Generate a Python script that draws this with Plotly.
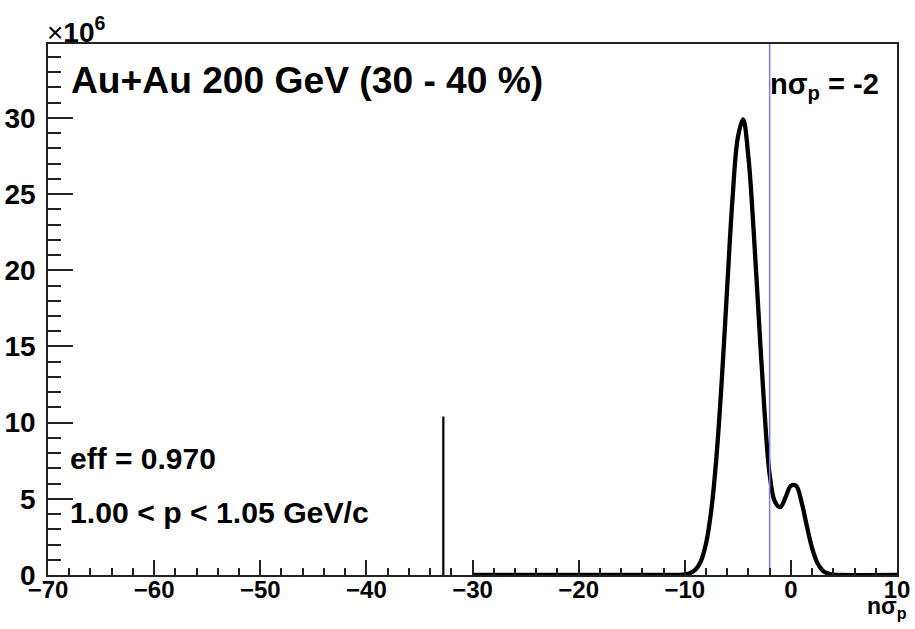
import plotly.graph_objects as go

# ---- data ----
nsigma = [-30, -11, -10.5, -10, -9.5, -9, -8.5, -8, -7.5, -7, -6.5, -6, -5.5, -5,
          -4.5, -4, -3.5, -3, -2.5, -2, -1.5, -1, -0.5, 0, 0.5, 1, 1.5, 2, 2.5,
          3, 3.5, 4, 4.5, 10]
counts_millions = [0, 0.0, 0.01, 0.04, 0.12, 0.34, 0.88, 2.05, 4.25, 7.86, 12.9, 18.9,
                   24.7, 28.7, 29.9, 27.4, 22.5, 16.6, 10.9, 6.6, 4.8, 4.45, 5.1, 5.86,
                   5.85, 4.8, 3.23, 1.77, 0.79, 0.29, 0.09, 0.02, 0.0, 0]
counts = [v * 1e6 for v in counts_millions]

spike_x = [-32.75, -32.75]
spike_y = [0, 10.4e6]

cut_value = -2
y_max = 34.85e6
x_range = [-70, 10]

y_tickvals = [0, 5e6, 10e6, 15e6, 20e6, 25e6, 30e6]
y_ticktext = ["0", "5", "10", "15", "20", "25", "30"]
x_tickvals = [-70, -60, -50, -40, -30, -20, -10, 0, 10]
x_ticktext = ["\u221270", "\u221260", "\u221250", "\u221240", "\u221230", "\u221220",
              "\u221210", "0", "10"]

FONT = "Liberation Sans, Arial, Helvetica, sans-serif"

fig = go.Figure()
fig.add_trace(go.Scatter(x=nsigma, y=counts, mode="lines",
                         line=dict(color="black", width=4.3, shape="spline", smoothing=1),
                         showlegend=False, hoverinfo="skip"))
fig.add_trace(go.Scatter(x=spike_x, y=spike_y, mode="lines",
                         line=dict(color="black", width=2.2),
                         showlegend=False, hoverinfo="skip"))
fig.add_trace(go.Scatter(x=[cut_value, cut_value], y=[0, y_max], mode="lines",
                         line=dict(color="#7b7bef", width=1.5),
                         showlegend=False, hoverinfo="skip"))

axis_common = dict(showline=True, mirror=True, linecolor="#222222", linewidth=1.5,
                   showgrid=False, zeroline=False, ticks="inside", tickcolor="#222222",
                   tickwidth=1.5, automargin=False)

fig.update_xaxes(range=x_range, tickvals=x_tickvals, ticktext=x_ticktext,
                 ticklen=15, ticklabelstandoff=-8,
                 tickfont=dict(family=FONT, size=24, color="black", weight="bold"),
                 minor=dict(dtick=2, tick0=0, ticklen=7, ticks="inside", tickcolor="#222222",
                            tickwidth=1.5, showgrid=False),
                 **axis_common)
fig.update_yaxes(range=[0, y_max], tickvals=y_tickvals, ticktext=y_ticktext,
                 ticklen=25, ticklabelstandoff=5,
                 tickfont=dict(family=FONT, size=28, color="black", weight="bold"),
                 minor=dict(dtick=1e6, tick0=0, ticklen=13, ticks="inside", tickcolor="#222222",
                            tickwidth=1.5, showgrid=False),
                 **axis_common)

def note(text, x, y, size, xanchor="left", yanchor="middle"):
    fig.add_annotation(text=text, x=x, y=y, xref="paper", yref="paper",
                       xanchor=xanchor, yanchor=yanchor, showarrow=False,
                       font=dict(family=FONT, size=size, color="black", weight="bold"))

note("Au+Au 200 GeV (30 - 40 %)", 0.0247, 0.932, 37.2)
note("n\u03c3<sub>p</sub> = -2", 0.848, 0.921, 29)
note("eff = 0.970", 0.0236, 0.2185, 30)
note("1.00 < p < 1.05 GeV/c", 0.0236, 0.1168, 30.2)
note("<span style='font-weight:normal'>\u00d7</span>10<sup>6</sup>", -0.0035, 1.027, 28)
note("n\u03c3<sub>p</sub>", 1.014, -0.03, 23, xanchor="right", yanchor="top")

fig.update_layout(width=915, height=629, paper_bgcolor="white", plot_bgcolor="white",
                  margin=dict(l=48, r=18, t=44, b=54), font=dict(family=FONT))

fig.write_html("out.html")
